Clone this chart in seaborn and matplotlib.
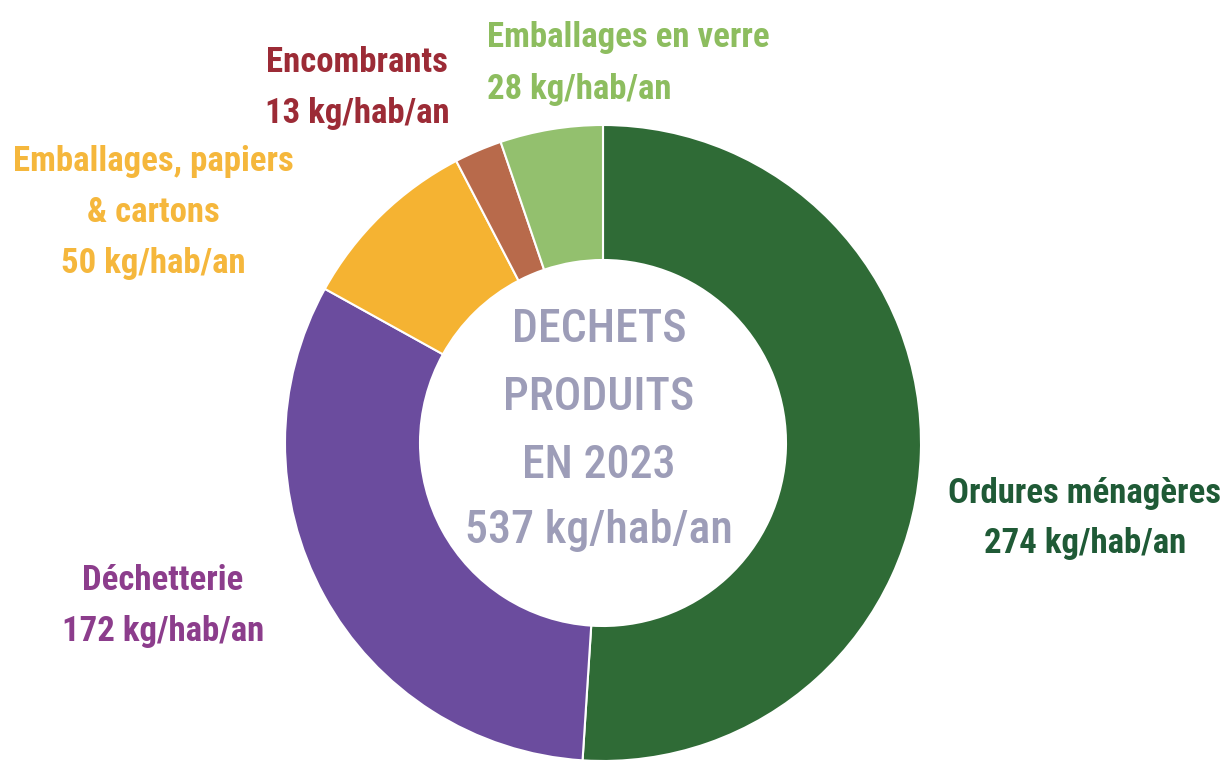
import matplotlib
matplotlib.use("Agg")
import matplotlib.pyplot as plt
import seaborn as sns

# --- data ---
categories = ["Ordures ménagères", "Déchetterie", "Emballages, papiers\n& cartons",
              "Encombrants", "Emballages en verre"]
values = [274, 172, 50, 13, 28]
unit = "kg/hab/an"
center_lines = ["DECHETS", "PRODUITS", "EN 2023", f"{sum(values)} {unit}"]

# --- style ---
wedge_colors = ["#2f6b36", "#6b4c9e", "#f5b332", "#b86a4b", "#93c06e"]
label_colors = ["#1f5a36", "#8c3d8c", "#f5b73c", "#9c2b36", "#8dbd5f"]
center_color = "#9d9db8"
FONT = ["Roboto Condensed", "DejaVu Sans"]

sns.set_theme(style="white")
plt.rcParams["font.family"] = FONT

W, H = 1227, 762
fig = plt.figure(figsize=(W / 100, H / 100), dpi=100)
ax = fig.add_axes([0, 0, 1, 1])

cx, cy, R = 603, H - 443, 318
ax.pie(values, colors=wedge_colors, startangle=90, counterclock=False,
       center=(cx, cy), radius=R, frame=True,
       wedgeprops=dict(width=R - 183, edgecolor="white", linewidth=1.5))
ax.set_xlim(0, W)
ax.set_ylim(0, H)
ax.axis("off")

# label placement (pixel coords from top-left: x, y of first line, alignment)
label_pos = [(1085, 493, "center"), (163, 580, "center"), (153, 162, "center"),
             (357, 62, "center"), (487, 38, "left")]
line_gap = 51
for cat, val, col, (x, y, ha) in zip(categories, values, label_colors, label_pos):
    lines = cat.split("\n") + [f"{val} {unit}"]
    for i, line in enumerate(lines):
        ax.text(x, H - (y + i * line_gap), line, color=col, fontsize=25,
                fontweight="bold", ha=ha, va="center")

center_y = [330, 397, 466, 530]
for line, y in zip(center_lines, center_y):
    ax.text(599, H - y, line, color=center_color, fontsize=33,
            fontweight="medium", ha="center", va="center")

fig.savefig("out.png", dpi=100, facecolor="white")
